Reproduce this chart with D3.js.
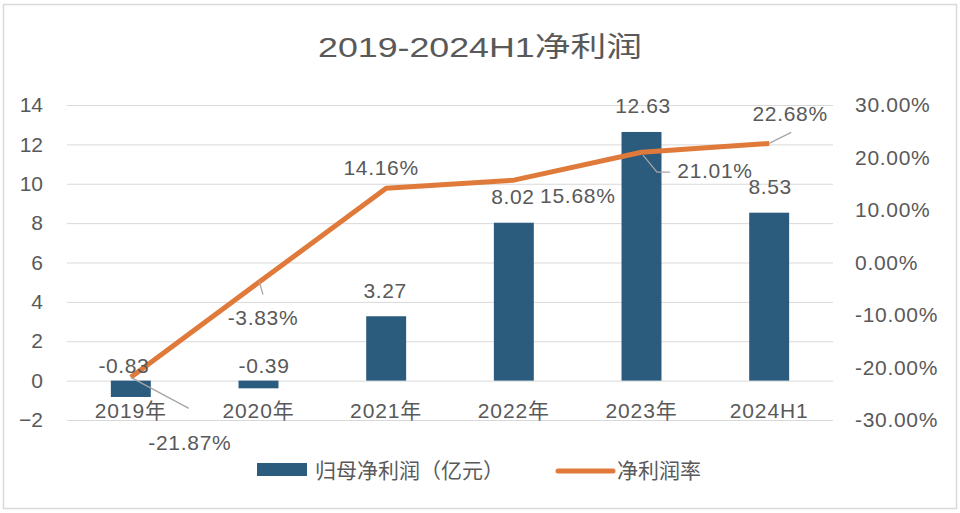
<!DOCTYPE html>
<html>
<head>
<meta charset="utf-8">
<script src="https://cdn.jsdelivr.net/npm/d3@7"></script>
<style>
  html, body { margin: 0; padding: 0; background: #fff; }
  svg { display: block; }
  text { font-family: "Liberation Sans", Arial, "Noto Sans CJK SC", sans-serif; fill: #595959; }
</style>
</head>
<body>
<script>
// ---- data ----
const categories = ["2019年", "2020年", "2021年", "2022年", "2023年", "2024H1"];
const netProfit = [-0.83, -0.39, 3.27, 8.02, 12.63, 8.53];      // 归母净利润（亿元）
const netMargin = [-21.87, -3.83, 14.16, 15.68, 21.01, 22.68];  // 净利润率 (%)
const leftTicks = [-2, 0, 2, 4, 6, 8, 10, 12, 14];
const rightTicks = [-30, -20, -10, 0, 10, 20, 30];
const titleText = "2019-2024H1净利润";
const seriesNames = ["归母净利润（亿元）", "净利润率"];

// ---- layout (label placement, not data) ----
const barLabelDx = [-7, 5.5, -1, -1, 1.5, 1];
const rateLabelOffset = [[59, 73], [4.5, 42], [-5, -13], [64, 23], [73.5, 26], [21, -22]];
const rateLeaders = [
  [[0, 0], [58, 31]],
  [[0.5, -2], [4.5, 12]],
  null,
  null,
  [[1.5, 3], [15.5, 20], [28.5, 20]],
  [[0, 0], [22, -11]]
];

const W = 960, H = 513;
const plotL = 67, plotR = 833, plotT = 105, plotB = 420;
const barColor = "#2B5C7E", lineColor = "#E07A3A", gridColor = "#D9D9D9";

const svg = d3.select("body").append("svg").attr("width", W).attr("height", H);

// border
svg.append("rect").attr("x", 3.5).attr("y", 4.5).attr("width", 953).attr("height", 504)
  .attr("fill", "#fff").attr("stroke", "#D9D9D9").attr("stroke-width", 1.5);

const x = d3.scaleBand().domain(categories).range([plotL, plotR])
  .paddingInner(0.687).paddingOuter(0.3435);
const yL = d3.scaleLinear().domain([-2, 14]).range([plotB, plotT]);
const yR = d3.scaleLinear().domain([-30, 30]).range([plotB, plotT]);
const cx = c => x(c) + x.bandwidth() / 2;

// title
svg.append("text").attr("x", W / 2).attr("y", 57).attr("text-anchor", "middle")
  .attr("font-size", 28).attr("textLength", 324).attr("lengthAdjust", "spacingAndGlyphs")
  .text(titleText);

// gridlines
const grid = svg.append("g").attr("transform", `translate(${plotL},0)`)
  .call(d3.axisLeft(yL).tickValues(leftTicks).tickSize(-(plotR - plotL)).tickFormat(""));
grid.select(".domain").remove();
grid.selectAll("line").attr("stroke", gridColor).attr("stroke-width", 1);

// left axis
const gL = svg.append("g").attr("transform", `translate(${plotL},0)`)
  .call(d3.axisLeft(yL).tickValues(leftTicks).tickSize(0).tickPadding(24).tickFormat(d3.format("d")));
gL.select(".domain").remove();
gL.attr("font-family", null).attr("font-size", null);
gL.selectAll("text").attr("font-size", 21).attr("fill", "#595959");

// right axis
const gR = svg.append("g").attr("transform", `translate(${plotR},0)`)
  .call(d3.axisRight(yR).tickValues(rightTicks).tickSize(0).tickPadding(22)
    .tickFormat(d => d.toFixed(2) + "%"));
gR.select(".domain").remove();
gR.attr("font-family", null).attr("font-size", null);
gR.selectAll("text").attr("font-size", 21).attr("fill", "#595959").attr("letter-spacing", 0.7);

// bars
svg.append("g").selectAll("rect").data(netProfit).join("rect")
  .attr("x", (d, i) => x(categories[i]))
  .attr("width", x.bandwidth())
  .attr("y", d => Math.min(yL(d), yL(0)))
  .attr("height", d => Math.abs(yL(d) - yL(0)))
  .attr("fill", barColor);

// category axis
const gB = svg.append("g").attr("transform", `translate(0,${yL(0)})`)
  .call(d3.axisBottom(x).tickSize(0).tickPadding(22));
gB.select(".domain").remove();
gB.attr("font-family", null).attr("font-size", null);
gB.selectAll("text").attr("font-size", 21).attr("fill", "#595959").attr("dy", "0.71em")
  .attr("letter-spacing", 0.9);

// line
const pts = netMargin.map((v, i) => [cx(categories[i]), yR(v)]);
svg.append("path").attr("d", d3.line()(pts))
  .attr("fill", "none").attr("stroke", lineColor).attr("stroke-width", 5)
  .attr("stroke-linejoin", "round");

// leader lines
rateLeaders.forEach((ld, i) => {
  if (!ld) return;
  const p = pts[i];
  svg.append("path").attr("d", d3.line()(ld.map(o => [p[0] + o[0], p[1] + o[1]])))
    .attr("fill", "none").attr("stroke", "#A6A6A6").attr("stroke-width", 1.3);
});

// bar labels
svg.append("g").selectAll("text").data(netProfit).join("text")
  .attr("x", (d, i) => cx(categories[i]) + barLabelDx[i])
  .attr("y", d => d >= 0 ? yL(d) - 18.5 : yL(0) - 8)
  .attr("text-anchor", "middle").attr("font-size", 21).attr("letter-spacing", 0.6)
  .text(d => d.toFixed(2));

// rate labels
svg.append("g").selectAll("text").data(netMargin).join("text")
  .attr("x", (d, i) => pts[i][0] + rateLabelOffset[i][0])
  .attr("y", (d, i) => pts[i][1] + rateLabelOffset[i][1])
  .attr("text-anchor", "middle").attr("font-size", 21).attr("letter-spacing", 0.7)
  .text(d => d.toFixed(2) + "%");

// legend
const lg = svg.append("g");
lg.append("rect").attr("x", 257).attr("y", 463).attr("width", 50).attr("height", 13).attr("fill", barColor);
lg.append("text").attr("x", 315).attr("y", 478).attr("font-size", 21).text(seriesNames[0]);
lg.append("line").attr("x1", 558).attr("x2", 613).attr("y1", 471).attr("y2", 471)
  .attr("stroke", lineColor).attr("stroke-width", 5).attr("stroke-linecap", "round");
lg.append("text").attr("x", 617).attr("y", 478).attr("font-size", 21).text(seriesNames[1]);
</script>
</body>
</html>
